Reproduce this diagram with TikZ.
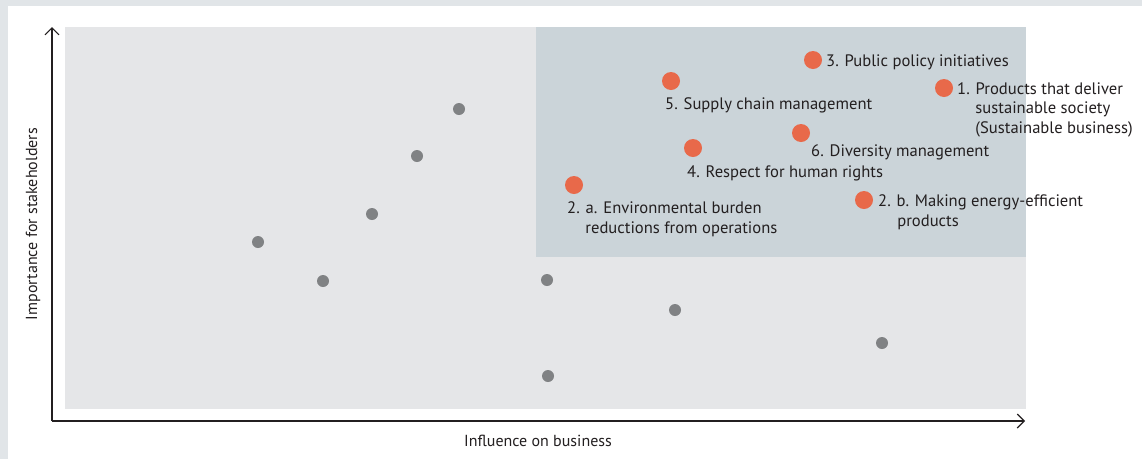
\documentclass[tikz,border=0pt]{standalone}
\usepackage{fontspec}
\setmainfont{PT Sans}
\usetikzlibrary{arrows.meta}
\definecolor{framegray}{HTML}{E1E5E8}
\definecolor{panelgray}{HTML}{E5E6E8}
\definecolor{focusblue}{HTML}{CBD4D9}
\definecolor{dotorange}{HTML}{E8694A}
\definecolor{dotgray}{HTML}{808284}
\definecolor{ink}{HTML}{231F20}
\tikzset{
  issue/.style={circle,fill=dotorange,inner sep=0pt,minimum size=18pt},
  other/.style={circle,fill=dotgray,inner sep=0pt,minimum size=12pt},
  lbl/.style={anchor=base west,inner sep=0pt,align=left,text=ink,
    font=\fontsize{16.6}{19.3}\selectfont},
  axlbl/.style={inner sep=0pt,text=ink,font=\fontsize{16}{18}\selectfont},
}
\begin{document}
\begin{tikzpicture}[x=1pt,y=-1pt]
\useasboundingbox (0,0) rectangle (1142,459);
% frame and panels
\fill[framegray] (0,0) rectangle (1142,459);
\fill[white] (8,6) rectangle (1142,459);
\fill[panelgray] (65,27) rectangle (1026,409);
\fill[focusblue] (536,27) rectangle (1026,257);

% axes
\coordinate (o) at (52,421);
\coordinate (ytop) at (52,27);
\coordinate (xend) at (1025,421);
\draw[ink,line width=1.1pt,-{Straight Barb[length=7pt,width=14pt]}] (o) -- (ytop);
\draw[ink,line width=1.1pt,-{Straight Barb[length=7pt,width=14pt]}] (o) -- (xend);
\node[axlbl] (xlab) at (538,441) {Influence on business};
\node[axlbl,rotate=90] (ylab) at (33,224) {Importance for stakeholders};

% other issues
\node[other] (g1) at (258,242) {};
\node[other] (g2) at (323,281) {};
\node[other] (g3) at (372,214) {};
\node[other] (g4) at (417,156) {};
\node[other] (g5) at (459,109) {};
\node[other] (g6) at (547,280) {};
\node[other] (g7) at (548,376) {};
\node[other] (g8) at (675,310) {};
\node[other] (g9) at (882,343) {};

% material issues
\node[issue] (p1) at (944,88) {};
\node[issue] (p2a) at (574,185) {};
\node[issue] (p2b) at (864,200) {};
\node[issue] (p3) at (813,60) {};
\node[issue] (p4) at (693,148) {};
\node[issue] (p5) at (671,81) {};
\node[issue] (p6) at (801,133) {};

% labels (base = last line)
\node[lbl] (l1) at (957,133) {1. Products that deliver\\\hspace*{1.1em}sustainable society\\\hspace*{1.1em}(Sustainable business)};
\node[lbl] (l2a) at (567,233) {2. a. Environmental burden\\\hspace*{1.1em}reductions from operations};
\node[lbl] (l2b) at (878,226) {2. b. Making energy-efficient\\\hspace*{1.15em}products};
\node[lbl] (l3) at (826,66) {3. Public policy initiatives};
\node[lbl] (l4) at (687,177) {4. Respect for human rights};
\node[lbl] (l5) at (665,109) {5. Supply chain management};
\node[lbl] (l6) at (811,156) {6. Diversity management};
\end{tikzpicture}
\end{document}
